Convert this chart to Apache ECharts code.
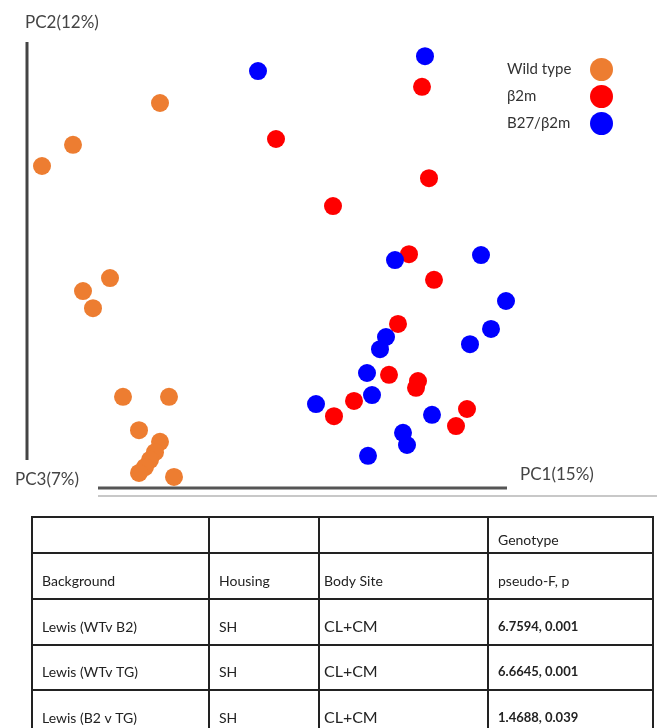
<!DOCTYPE html>
<html>
<head>
<meta charset="utf-8">
<script src="https://cdn.jsdelivr.net/npm/echarts@6/dist/echarts.min.js"></script>
<style>
html,body{margin:0;padding:0;background:#fff;}
#chart{width:657px;height:728px;}
</style>
</head>
<body>
<div id="chart"></div>
<script>
// ---- data (PC1, PC2 scores) ----
const seriesNames = ['Wild type', 'β2m', 'B27/β2m'];
const wildType = [
  [-0.234, 0.360], [-0.408, 0.267], [-0.470, 0.220], [-0.334, -0.029],
  [-0.388, -0.058], [-0.368, -0.096], [-0.308, -0.293], [-0.216, -0.293],
  [-0.276, -0.367], [-0.234, -0.393], [-0.244, -0.416], [-0.254, -0.433],
  [-0.264, -0.449], [-0.276, -0.462], [-0.206, -0.471]
];
const b2m = [
  [0.290, 0.396], [-0.002, 0.280], [0.304, 0.193], [0.112, 0.131],
  [0.264, 0.024], [0.314, -0.033], [0.242, -0.131], [0.224, -0.244],
  [0.282, -0.258], [0.278, -0.273], [0.154, -0.302], [0.114, -0.336],
  [0.380, -0.320], [0.358, -0.358]
];
const b27b2m = [
  [-0.038, 0.431], [0.296, 0.464], [0.236, 0.011], [0.408, 0.022],
  [0.458, -0.080], [0.428, -0.142], [0.386, -0.176], [0.218, -0.160],
  [0.206, -0.187], [0.180, -0.240], [0.190, -0.289], [0.078, -0.309],
  [0.310, -0.333], [0.252, -0.373], [0.260, -0.400], [0.182, -0.424]
];
const axisTitles = { pc1: 'PC1(15%)', pc2: 'PC2(12%)', pc3: 'PC3(7%)' };
const tableRows = [
  ['', '', '', 'Genotype'],
  ['Background', 'Housing', 'Body Site', 'pseudo-F, p'],
  ['Lewis (WTv B2)', 'SH', 'CL+CM', '6.7594, 0.001'],
  ['Lewis (WTv TG)', 'SH', 'CL+CM', '6.6645, 0.001'],
  ['Lewis (B2 v TG)', 'SH', 'CL+CM', '1.4688, 0.039']
];

// ---- layout / style ----
const colors = ['#ED7D31', '#FF0000', '#0000FF'];
const colX = [32, 209, 319, 488, 653];
const rowY = [517, 553, 599, 645, 690, 736];
const fam = 'Lato, "Open Sans", sans-serif';
const textFont = '14px ' + fam;
const bigFont = '16px ' + fam;
const boldFont = 'bold 13px ' + fam;
const axisFont = '17px ' + fam;

const graphics = [];
// axis lines
graphics.push({ type: 'line', shape: { x1: 27, y1: 42, x2: 27, y2: 460 }, style: { stroke: '#444', lineWidth: 3 } });
graphics.push({ type: 'line', shape: { x1: 98, y1: 488, x2: 507, y2: 488 }, style: { stroke: '#555', lineWidth: 3 } });
graphics.push({ type: 'line', shape: { x1: 98, y1: 496, x2: 657, y2: 496 }, style: { stroke: '#c8c8c8', lineWidth: 2 } });
// axis titles
graphics.push({ type: 'text', style: { text: axisTitles.pc2, x: 25, y: 23, font: axisFont, fill: '#444', verticalAlign: 'middle' } });
graphics.push({ type: 'text', style: { text: axisTitles.pc3, x: 15, y: 480, font: axisFont, fill: '#444', verticalAlign: 'middle' } });
graphics.push({ type: 'text', style: { text: axisTitles.pc1, x: 520, y: 475, font: axisFont, fill: '#444', verticalAlign: 'middle' } });
// table grid
rowY.forEach(y => graphics.push({ type: 'line', shape: { x1: colX[0] - 1, y1: y, x2: colX[colX.length - 1] + 1, y2: y }, style: { stroke: '#222', lineWidth: 2 } }));
colX.forEach(x => graphics.push({ type: 'line', shape: { x1: x, y1: rowY[0], x2: x, y2: rowY[rowY.length - 1] }, style: { stroke: '#222', lineWidth: 2 } }));
// table text
tableRows.forEach((row, r) => {
  row.forEach((cell, c) => {
    if (!cell) return;
    let font = textFont;
    if (r >= 2 && c === 2) font = bigFont;
    if (r >= 2 && c === 3) font = boldFont;
    const yOff = r === 0 ? 13 : 18;
    graphics.push({ type: 'text', style: { text: cell, x: colX[c] + (c === 2 ? 5 : 10), y: rowY[r + 1] - yOff, font: font, fill: '#222', verticalAlign: 'middle' } });
  });
});

// legend label padding so all labels start at one x and all icons line up
const ctx = document.createElement('canvas').getContext('2d');
ctx.font = '15px ' + fam;
const labelBox = 78;
const rich = { n: { fontSize: 15, color: '#333', fontFamily: fam } };
seriesNames.forEach((n, i) => { rich['p' + i] = { width: Math.max(1, labelBox - ctx.measureText(n).width) }; });

const chart = echarts.init(document.getElementById('chart'));
chart.setOption({
  animation: false,
  backgroundColor: '#fff',
  grid: { left: 27, right: 130, top: 40, bottom: 238 },
  xAxis: { type: 'value', min: -0.5, max: 0.5, show: false },
  yAxis: { type: 'value', min: -0.5, max: 0.5, show: false },
  legend: {
    orient: 'vertical', left: 507, top: 58, padding: 0, align: 'right',
    icon: 'circle', itemWidth: 23, itemHeight: 23, itemGap: 4,
    formatter: name => '{n|' + name + '}{p' + seriesNames.indexOf(name) + '|}',
    textStyle: { fontSize: 15, color: '#333', fontFamily: fam, rich: rich },
    data: seriesNames
  },
  series: [
    { name: seriesNames[0], type: 'scatter', data: wildType, symbolSize: 18, itemStyle: { color: colors[0], opacity: 1 } },
    { name: seriesNames[1], type: 'scatter', data: b2m, symbolSize: 18, itemStyle: { color: colors[1], opacity: 1 } },
    { name: seriesNames[2], type: 'scatter', data: b27b2m, symbolSize: 18, itemStyle: { color: colors[2], opacity: 1 } }
  ],
  graphic: graphics
});
</script>
</body>
</html>
